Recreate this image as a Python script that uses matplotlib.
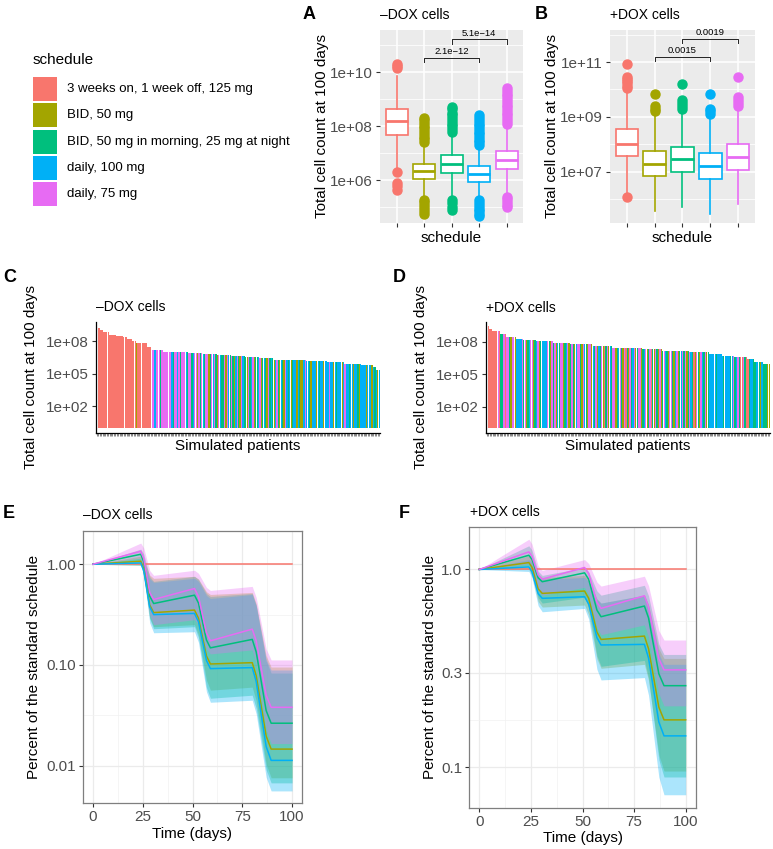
import numpy as np
import matplotlib
matplotlib.use('Agg')
import matplotlib.pyplot as plt
from matplotlib.patches import Rectangle
from matplotlib.ticker import FixedLocator, FixedFormatter, NullFormatter

plt.rcParams['font.family'] = ['Liberation Sans', 'DejaVu Sans']

W, H = 773, 849

schedules = ['3 weeks on, 1 week off, 125 mg', 'BID, 50 mg',
             'BID, 50 mg in morning, 25 mg at night', 'daily, 100 mg', 'daily, 75 mg']
colors = ['#F8766D', '#A3A500', '#00BF7D', '#00B0F6', '#E76BF3']
codes = 'ROGBM'

# ---- boxplots (log10 of total cell count at 100 days) ----
boxA_q1 = [7.69, 6.06, 6.27, 5.94, 6.40]
boxA_med = [8.20, 6.35, 6.62, 6.25, 6.75]
boxA_q3 = [8.63, 6.59, 6.93, 6.52, 7.08]
boxA_lo = [6.35, 5.38, 5.32, 5.32, 5.52]
boxA_hi = [9.85, 7.36, 7.73, 7.23, 8.04]
outA = [
    [10.32, 10.22, 10.14, 6.29, 5.90, 5.79, 5.65],
    [8.32, 8.22, 8.12, 8.02, 7.92, 7.82, 7.72, 7.62, 7.52, 7.42, 5.28, 5.18, 5.08, 4.98, 4.88, 4.77],
    [8.72, 8.62, 8.5, 8.4, 8.3, 8.2, 8.1, 8.0, 7.9, 7.79, 5.26, 5.15, 5.03, 4.91],
    [8.41, 8.3, 8.2, 8.1, 8.0, 7.9, 7.8, 7.7, 7.6, 7.5, 7.4, 7.3, 5.26, 5.15, 5.05, 4.95, 4.85, 4.75, 4.67],
    [9.43, 9.32, 9.2, 9.1, 9.0, 8.9, 8.8, 8.7, 8.6, 8.5, 8.4, 8.3, 8.2, 8.1, 5.4, 5.3, 5.2, 5.1, 5.03],
]
boxB_q1 = [7.57, 6.83, 6.99, 6.72, 7.07]
boxB_med = [8.02, 7.26, 7.44, 7.21, 7.54]
boxB_q3 = [8.55, 7.74, 7.90, 7.66, 8.00]
boxB_lo = [6.20, 5.55, 5.71, 5.46, 5.80]
boxB_hi = [9.98, 9.12, 9.24, 9.06, 9.30]
outB = [
    [10.91, 10.46, 10.38, 10.3, 10.22, 10.14, 10.06, 6.07],
    [9.82, 9.39, 9.3, 9.2],
    [10.18, 9.61, 9.5, 9.4, 9.3],
    [9.85, 9.3, 9.2, 9.1],
    [10.44, 9.73, 9.62, 9.5, 9.4],
]
# comparisons: (group a, group b, log10 y of bracket, label)
compA = [(2, 4, 10.54, '2.1e\u221212'), (3, 5, 11.22, '5.1e\u221214')]
compB = [(2, 4, 11.20, '0.0015'), (3, 5, 11.84, '0.0019')]

# ---- waterfall bars: runs of (n patients, log10 count), schedule codes ----
runsC = [(3, 9.26), (2, 9.05), (4, 8.84), (5, 8.62), (5, 8.52), (3, 8.40), (3, 8.20),
         (3, 7.98), (8, 7.83), (3, 7.50), (8, 7.15), (9, 7.05), (9, 7.00),
         (10, 6.92), (10, 6.85), (10, 6.78), (10, 6.68), (10, 6.55), (10, 6.42), (8, 6.32),
         (15, 6.28), (15, 6.18), (12, 6.05), (12, 5.92), (8, 5.84), (2, 5.60), (3, 5.35)]
colC = ("RRRRRRRRRRRRRRRRRRRR"
        "RRRRRRRRORRRRRRRRRRM"
        "MBMMMGMMMMMMMBGMMBMG"
        "MMMBGMMGBMMOMGMBGMMO"
        "GMBMGOMBGGMOMBGMGOBM"
        "GOMBGGOMGBMOGGBMOGBG"
        "OMGBGOBMGOBGOMBGBOGB"
        "BOBGOOBMBBGOBBBOBGBB"
        "OBBBMBBOBGBBBOBMBBGB"
        "BOBBGOBBBBOBBBOBGBOB")
runsD = [(2, 9.45), (2, 9.21), (6, 9.00), (4, 8.70), (7, 8.48), (5, 8.30), (9, 8.18),
         (12, 8.09), (12, 7.94), (16, 7.80), (14, 7.64), (12, 7.48),
         (9, 7.44), (14, 7.33), (19, 7.18), (14, 7.03), (9, 6.88), (9, 6.73), (9, 6.58),
         (5, 6.43), (6, 6.15), (5, 6.00)]
colD = ("RRRRRRRRMRGGMRMMGOMM"
        "OBBBBMGMOGBMMOGBMOGB"
        "BBBMGOMGMOBGMMOGBMOG"
        "MGOBMMGOMBGOMMOBGMOB"
        "GMORGMOBGMMOGBMGOMRG"
        "OMGBMOGMMOGBMOGMRGOM"
        "GOMOGMBGOMMGOBMOGBMG"
        "MOGMBGROMGOMBGMOGBBB"
        "BBGBBBBGBBBBGBMGBMGR"
        "RMGRRGBBGGBBGOBGGGOO")

# ---- relative to standard schedule (log10 ratio), median and ribbon bounds ----
days = [0, 24, 25.5, 27, 28.5, 30.5, 51, 53, 55, 57, 59, 80, 82, 84.5, 87, 89.5, 100]
E_mid = {
    'R': [0, 0, 0, 0, 0, 0, 0, 0, 0, 0, 0, 0, 0, 0, 0, 0, 0],
    'O': [0, 0.03, -0.047, -0.225, -0.404, -0.48, -0.455, -0.535, -0.723, -0.91, -0.99,
          -0.977, -1.106, -1.406, -1.706, -1.835, -1.835],
    'G': [0, 0.099, 0.026, -0.146, -0.317, -0.39, -0.307, -0.385, -0.57, -0.752, -0.83,
          -0.746, -0.871, -1.162, -1.453, -1.578, -1.578],
    'B': [0, 0.013, -0.064, -0.244, -0.423, -0.50, -0.488, -0.57, -0.762, -0.954, -1.036,
          -1.026, -1.164, -1.487, -1.809, -1.947, -1.947],
    'M': [0, 0.129, 0.057, -0.11, -0.28, -0.35, -0.241, -0.32, -0.50, -0.68, -0.76,
          -0.644, -0.76, -1.03, -1.30, -1.42, -1.42],
}
E_hi = {
    'O': [0, 0.08, 0.047, -0.03, -0.107, -0.14, -0.12, -0.147, -0.21, -0.273, -0.30,
          -0.28, -0.391, -0.65, -0.909, -1.02, -1.02],
    'G': [0, 0.15, 0.102, -0.01, -0.122, -0.17, -0.12, -0.15, -0.22, -0.29, -0.32,
          -0.29, -0.41, -0.685, -0.96, -1.08, -1.08],
    'B': [0, 0.06, 0.024, -0.06, -0.144, -0.18, -0.14, -0.17, -0.24, -0.31, -0.34,
          -0.30, -0.41, -0.675, -0.94, -1.05, -1.05],
    'M': [0, 0.21, 0.162, 0.05, -0.062, -0.11, -0.06, -0.09, -0.16, -0.23, -0.26,
          -0.22, -0.33, -0.585, -0.84, -0.95, -0.95],
}
E_lo = {
    'O': [0, -0.01, -0.10, -0.315, -0.53, -0.62, -0.60, -0.70, -0.925, -1.15, -1.25,
          -1.22, -1.355, -1.67, -1.985, -2.12, -2.12],
    'G': [0, 0.03, -0.07, -0.305, -0.54, -0.64, -0.62, -0.727, -0.975, -1.223, -1.33,
          -1.30, -1.43, -1.735, -2.04, -2.17, -2.17],
    'B': [0, -0.01, -0.11, -0.345, -0.58, -0.68, -0.67, -0.775, -1.02, -1.265, -1.37,
          -1.35, -1.485, -1.80, -2.115, -2.25, -2.25],
    'M': [0, 0.06, -0.04, -0.27, -0.50, -0.60, -0.55, -0.60, -0.72, -0.84, -0.89,
          -0.85, -0.99, -1.315, -1.64, -1.78, -1.78],
}
F_mid = {
    'R': [0, 0, 0, 0, 0, 0, 0, 0, 0, 0, 0, 0, 0, 0, 0, 0, 0],
    'O': [0, 0.035, 0.012, -0.043, -0.098, -0.121, -0.109, -0.146, -0.232, -0.317, -0.354,
          -0.337, -0.401, -0.549, -0.697, -0.761, -0.761],
    'G': [0, 0.072, 0.052, 0.005, -0.042, -0.062, -0.017, -0.05, -0.128, -0.206, -0.239,
          -0.185, -0.245, -0.387, -0.528, -0.588, -0.588],
    'B': [0, 0.013, -0.011, -0.067, -0.122, -0.146, -0.138, -0.175, -0.26, -0.345, -0.382,
          -0.379, -0.448, -0.61, -0.772, -0.842, -0.842],
    'M': [0, 0.089, 0.068, 0.02, -0.028, -0.049, 0.010, -0.021, -0.094, -0.166, -0.197,
          -0.133, -0.189, -0.321, -0.452, -0.508, -0.508],
}
F_hi = {
    'O': [0, 0.07, 0.054, 0.015, -0.024, -0.04, -0.03, -0.051, -0.10, -0.149, -0.17,
          -0.13, -0.178, -0.29, -0.402, -0.45, -0.45],
    'G': [0, 0.12, 0.098, 0.045, -0.008, -0.03, 0.01, -0.011, -0.06, -0.109, -0.13,
          -0.08, -0.133, -0.255, -0.378, -0.43, -0.43],
    'B': [0, 0.05, 0.035, 0.0, -0.035, -0.05, -0.04, -0.06, -0.105, -0.15, -0.17,
          -0.13, -0.183, -0.305, -0.428, -0.48, -0.48],
    'M': [0, 0.153, 0.129, 0.074, 0.019, -0.005, 0.05, 0.03, -0.017, -0.064, -0.084,
          -0.034, -0.082, -0.195, -0.309, -0.357, -0.357],
}
F_lo = {
    'O': [0, 0.0, -0.029, -0.095, -0.162, -0.19, -0.18, -0.228, -0.34, -0.452, -0.50,
          -0.48, -0.561, -0.75, -0.939, -1.02, -1.02],
    'G': [0, 0.02, -0.009, -0.075, -0.142, -0.17, -0.14, -0.193, -0.315, -0.438, -0.49,
          -0.46, -0.549, -0.755, -0.962, -1.05, -1.05],
    'B': [0, -0.01, -0.041, -0.112, -0.183, -0.214, -0.197, -0.251, -0.378, -0.505, -0.559,
          -0.547, -0.636, -0.844, -1.051, -1.14, -1.14],
    'M': [0, 0.03, 0.006, -0.05, -0.106, -0.13, -0.09, -0.126, -0.21, -0.294, -0.33,
          -0.28, -0.342, -0.485, -0.629, -0.69, -0.69],
}

fig = plt.figure(figsize=(W / 100, H / 100), dpi=100)
col_of = dict(zip(codes, colors))
TXT = '#4D4D4D'


def px_axes(l, t, r, b):
    return fig.add_axes([l / W, 1 - b / H, (r - l) / W, (b - t) / H])


def log_ticks(ax, major, minor, labels):
    ax.yaxis.set_major_locator(FixedLocator(major))
    ax.yaxis.set_major_formatter(FixedFormatter(labels))
    ax.yaxis.set_minor_locator(FixedLocator(minor))
    ax.yaxis.set_minor_formatter(NullFormatter())


def box_panel(ax, q1, med, q3, lo, hi, outs, comps, ylim, major, minor, labels):
    ax.set_facecolor('#EBEBEB')
    ax.set_yscale('log')
    for i in range(5):
        st = dict(q1=10 ** q1[i], med=10 ** med[i], q3=10 ** q3[i],
                  whislo=10 ** lo[i], whishi=10 ** hi[i],
                  fliers=[10 ** v for v in outs[i]])
        c = colors[i]
        ax.bxp([st], positions=[i + 1], widths=0.8, patch_artist=True, showcaps=False,
               boxprops=dict(facecolor='white', edgecolor=c, linewidth=1.2),
               medianprops=dict(color=c, linewidth=2.0),
               whiskerprops=dict(color=c, linewidth=1.2),
               flierprops=dict(marker='o', markerfacecolor=c, markeredgecolor=c, markersize=6.5))
    for a, b, y, lab in comps:
        yy = 10 ** y
        tip = 10 ** (y - 0.16)
        ax.plot([a, a, b, b], [tip, yy, yy, tip], color='#222222', lw=0.7)
        ax.text((a + b) / 2, 10 ** (y + 0.06), lab, ha='center', va='bottom', fontsize=6.8)
    ax.set_xlim(0.4, 5.6)
    ax.set_ylim(10 ** ylim[0], 10 ** ylim[1])
    log_ticks(ax, major, minor, labels)
    ax.set_xticks(range(1, 6))
    ax.set_xticklabels([''] * 5)
    ax.grid(True, which='major', color='white', lw=1.1)
    ax.grid(True, which='minor', axis='y', color='white', lw=0.55)
    ax.set_axisbelow(True)
    for s in ax.spines.values():
        s.set_visible(False)
    ax.tick_params(which='major', color='#333333', length=3, width=0.8, labelsize=11, labelcolor=TXT, pad=2)
    ax.tick_params(which='minor', length=0)


axA = px_axes(380, 30, 523, 223)
box_panel(axA, boxA_q1, boxA_med, boxA_q3, boxA_lo, boxA_hi, outA, compA, (4.42, 11.56),
          [1e6, 1e8, 1e10], [1e5, 1e7, 1e9, 1e11], ['1e+06', '1e+08', '1e+10'])
axB = px_axes(610, 30, 755, 223)
box_panel(axB, boxB_q1, boxB_med, boxB_q3, boxB_lo, boxB_hi, outB, compB, (5.12, 12.17),
          [1e7, 1e9, 1e11], [1e6, 1e8, 1e10, 1e12], ['1e+07', '1e+09', '1e+11'])


def bar_panel(ax, runs, cols, ylim):
    vals = []
    for n, v in runs:
        vals += [v] * n
    vals = np.array(vals)
    n = len(vals)
    x = np.arange(1, n + 1)
    ax.set_yscale('log')
    ax.bar(x, 10 ** vals - 1, bottom=1, width=0.9, linewidth=0,
           color=[col_of[c] for c in cols[:n]])
    ax.set_xlim(0.4, n + 0.6)
    ax.set_ylim(10 ** ylim[0], 10 ** ylim[1])
    log_ticks(ax, [1e2, 1e5, 1e8], [], ['1e+02', '1e+05', '1e+08'])
    ax.set_xticks(x)
    ax.set_xticklabels([''] * n)
    for s in ['top', 'right']:
        ax.spines[s].set_visible(False)
    for s in ['left', 'bottom']:
        ax.spines[s].set_color('black')
        ax.spines[s].set_linewidth(0.9)
    ax.tick_params(axis='x', length=2.5, width=0.4, color='#333333')
    ax.tick_params(axis='y', length=3, width=0.8, color='#333333', labelsize=11, labelcolor=TXT, pad=2)
    ax.tick_params(which='minor', length=0)


axC = px_axes(96, 322, 380, 433)
bar_panel(axC, runsC, colC, (-0.44, 9.77))
axD = px_axes(486, 322, 770, 433)
bar_panel(axD, runsD, colD, (-0.44, 9.85))


def ratio_panel(ax, mid, hi, lo, ylim, major, labels, minor):
    ax.set_yscale('log')
    for c in 'OGBM':
        ax.fill_between(days, [10 ** v for v in lo[c]], [10 ** v for v in hi[c]],
                        color=col_of[c], alpha=0.33, lw=0)
    for c in 'RGOBM':
        ax.plot(days, [10 ** v for v in mid[c]], color=col_of[c], lw=1.1)
    ax.set_xlim(-5, 105)
    ax.set_ylim(10 ** ylim[0], 10 ** ylim[1])
    log_ticks(ax, major, minor, labels)
    ax.set_xticks([0, 25, 50, 75, 100])
    ax.xaxis.set_minor_locator(FixedLocator([12.5, 37.5, 62.5, 87.5]))
    ax.grid(True, which='major', color='#EBEBEB', lw=0.9)
    ax.grid(True, which='minor', color='#F2F2F2', lw=0.5)
    ax.set_axisbelow(True)
    for s in ax.spines.values():
        s.set_color('#7F7F7F')
        s.set_linewidth(0.9)
    ax.tick_params(which='major', color='#333333', length=3, width=0.8, labelsize=11, labelcolor=TXT, pad=2)
    ax.tick_params(which='minor', length=0)


axE = px_axes(83, 531, 302, 803)
ratio_panel(axE, E_mid, E_hi, E_lo, (-2.37, 0.33), [0.01, 0.1, 1.0], ['0.01', '0.10', '1.00'],
            [10 ** -1.5, 10 ** -0.5])
axF = px_axes(469, 527, 696, 808)
ratio_panel(axF, F_mid, F_hi, F_lo, (-1.207, 0.215), [0.1, 0.3, 1.0], ['0.1', '0.3', '1.0'],
            [0.173, 0.548])

# ---- overlay for letters, titles, labels and legend (pixel coordinates) ----
ov = fig.add_axes([0, 0, 1, 1])
ov.set_xlim(0, W)
ov.set_ylim(H, 0)
ov.axis('off')
ov.patch.set_visible(False)

for lab, x, y in [('A', 303, 14), ('B', 535, 14), ('C', 3, 277), ('D', 393, 277),
                  ('E', 3, 514), ('F', 399, 514)]:
    ov.text(x, y, lab, fontsize=13, fontweight='bold', ha='left', va='center')
for t, x, y in [('\u2013DOX cells', 380, 15), ('+DOX cells', 610, 15),
                ('\u2013DOX cells', 96, 307), ('+DOX cells', 486, 308),
                ('\u2013DOX cells', 83, 515), ('+DOX cells', 470, 512)]:
    ov.text(x, y, t, fontsize=10, ha='left', va='center')

ylab = 'Total cell count at 100 days'
for x, y in [(322, 126), (552, 126), (31, 377), (421, 377)]:
    ov.text(x, y, ylab, fontsize=11, rotation=90, ha='center', va='center')
ylab2 = 'Percent of the standard schedule'
for x, y in [(34, 667), (430, 667)]:
    ov.text(x, y, ylab2, fontsize=11, rotation=90, ha='center', va='center')
for t, x, y in [('schedule', 451, 238), ('schedule', 682, 238),
                ('Simulated patients', 238, 446), ('Simulated patients', 628, 446),
                ('Time (days)', 192, 834), ('Time (days)', 583, 838)]:
    ov.text(x, y, t, fontsize=11, ha='center', va='center')

# legend
ov.text(33, 60, 'schedule', fontsize=11, ha='left', va='center')
for i, (name, c) in enumerate(zip(schedules, colors)):
    top = 77 + i * 26.3
    ov.add_patch(Rectangle((33, top), 24, 24, facecolor=c, edgecolor='none'))
    ov.text(67, top + 12, name, fontsize=9.5, ha='left', va='center')

fig.savefig('out.png', dpi=100)
